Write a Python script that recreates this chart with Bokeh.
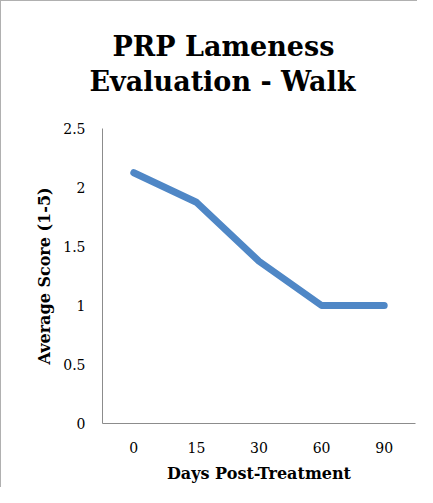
from bokeh.plotting import figure
from bokeh.models import FactorRange, Range1d, Title, FixedTicker
from bokeh.embed import file_html
from bokeh.resources import INLINE

days = ["0", "15", "30", "60", "90"]
scores = [2.125, 1.875, 1.375, 1.0, 1.0]
y_ticks = [0, 0.5, 1, 1.5, 2, 2.5]
y_tick_labels = {0: "0", 0.5: "0.5", 1: "1", 1.5: "1.5", 2: "2", 2.5: "2.5"}
title_lines = ["PRP Lameness", "Evaluation - Walk"]

SERIF = "DejaVu Serif"

p = figure(width=417, height=487, x_range=FactorRange(*days, range_padding=0),
           y_range=Range1d(0, 2.5), output_backend="svg", toolbar_location=None,
           min_border_left=101, min_border_right=3, min_border_top=127, min_border_bottom=65)
p.outline_line_color = None
p.xgrid.grid_line_color = None
p.ygrid.grid_line_color = None

p.line(days, scores, line_color="#4f87c6", line_width=7, line_cap="round", line_join="round")

for ax in (p.xaxis, p.yaxis):
    ax.axis_line_color = "#8c8c8c"
    ax.major_tick_line_color = None
    ax.minor_tick_line_color = None
    ax.major_label_text_font = SERIF
    ax.major_label_text_font_size = "14px"
    ax.major_label_text_color = "#000000"
    ax.axis_label_text_font = SERIF
    ax.axis_label_text_font_style = "bold"
    ax.axis_label_text_font_size = "16px"
    ax.axis_label_text_color = "#000000"

p.yaxis.ticker = FixedTicker(ticks=y_ticks)
p.yaxis.major_label_overrides = y_tick_labels
p.yaxis.major_label_standoff = 11
p.xaxis.major_label_standoff = 12
p.yaxis.axis_label = "Average Score (1-5)"
p.xaxis.axis_label = "Days Post-Treatment"
p.yaxis.axis_label_standoff = 6
p.xaxis.axis_label_standoff = 8

p.title = None
t2 = Title(text=title_lines[1], align="left", offset=-13, standoff=64, text_font=SERIF,
           text_font_size="27px", text_font_style="bold", text_color="#000000")
t1 = Title(text=title_lines[0], align="left", offset=10, standoff=-60, text_font=SERIF,
           text_font_size="27px", text_font_style="bold", text_color="#000000")
p.add_layout(t2, "above")
p.add_layout(t1, "above")

p.styles = {"border-left": "1px solid #b0b0b0", "border-top": "1px solid #b0b0b0"}

open("out.html", "w").write(file_html(p, INLINE))
